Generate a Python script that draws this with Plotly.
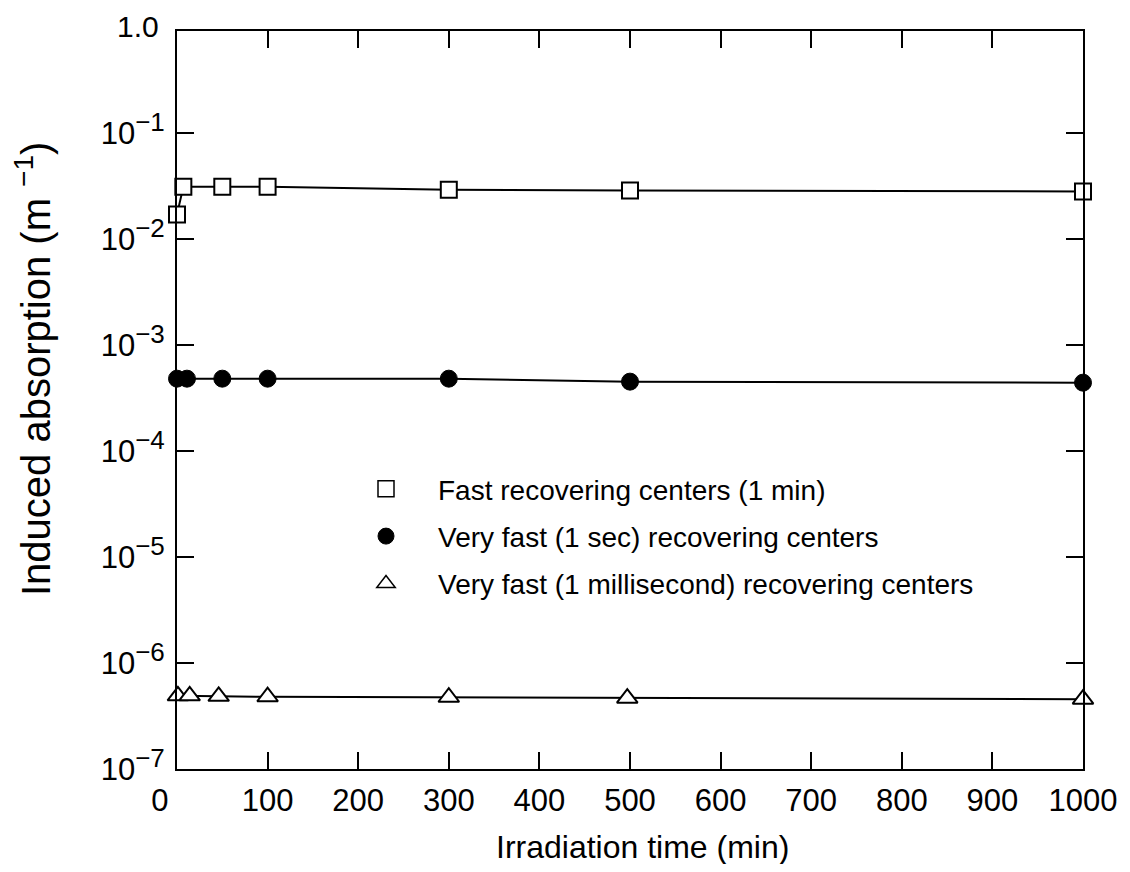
import plotly.graph_objects as go

# ---- data ----
fast_x = [0, 7, 50, 100, 300, 500, 1000]
fast_y = [0.017, 0.031, 0.031, 0.031, 0.029, 0.0285, 0.028]

sec_x = [0, 11, 50, 100, 300, 500, 1000]
sec_y = [4.8e-4, 4.8e-4, 4.8e-4, 4.8e-4, 4.8e-4, 4.5e-4, 4.4e-4]

ms_x = [1, 14, 46, 100, 300, 497, 1000]
ms_y = [4.9e-7, 4.9e-7, 4.85e-7, 4.8e-7, 4.75e-7, 4.65e-7, 4.55e-7]

series_names = [
    "Fast recovering centers (1 min)",
    "Very fast (1 sec) recovering centers",
    "Very fast (1 millisecond) recovering centers",
]

x_ticks = [0, 100, 200, 300, 400, 500, 600, 700, 800, 900, 1000]
x_ticklabels = ["0\u2007\u2007", "100", "200", "300", "400", "500", "600", "700", "800", "900", "1000"]
y_ticks = [1e-1, 1e-2, 1e-3, 1e-4, 1e-5, 1e-6, 1e-7]
y_exponents = ["\u22121", "\u22122", "\u22123", "\u22124", "\u22125", "\u22126", "\u22127"]
y_ticklabels = [f"10<sup><span style='font-size:26px'>{e}</span></sup>" for e in y_exponents]
top_label = "1.0"

FONT = "Liberation Sans, Arial, sans-serif"

styles = [
    dict(symbol="square", size=16, color="white", line=dict(color="black", width=2)),
    dict(symbol="circle", size=17, color="black", line=dict(color="black", width=1)),
    dict(symbol="triangle-up", size=18, color="white", line=dict(color="black", width=2)),
]
legend_styles = [
    dict(symbol="square", size=16, color="white", line=dict(color="black", width=1.5)),
    dict(symbol="circle", size=16, color="black", line=dict(color="black", width=1)),
    dict(symbol="triangle-up", size=16, color="white", line=dict(color="black", width=1.5)),
]

fig = go.Figure()
for xs, ys, st in zip([fast_x, sec_x, ms_x], [fast_y, sec_y, ms_y], styles):
    fig.add_trace(go.Scatter(x=xs, y=ys, mode="lines+markers",
                             line=dict(color="black", width=2),
                             marker=st, showlegend=False, cliponaxis=False))

for i, (name, st) in enumerate(zip(series_names, legend_styles)):
    fig.add_trace(go.Scatter(x=[None], y=[None], mode="markers", name=name,
                             marker=st, legendgroup=f"g{i}", showlegend=True))

# page body has an 8px margin: figure sized so the plot area lands where the reference has it
fig.update_layout(
    width=1114, height=856,
    margin=dict(l=169, r=39, t=23, b=95),
    paper_bgcolor="white", plot_bgcolor="white",
    font=dict(family=FONT, size=31, color="black"),
    legend=dict(x=(334 - 177) / 906, y=(769 - 464) / 738, xanchor="left", yanchor="top",
                font=dict(size=28, family=FONT), tracegroupgap=8,
                bgcolor="rgba(0,0,0,0)", itemwidth=94),
    xaxis=dict(range=[0, 1000], tickvals=x_ticks, ticktext=x_ticklabels,
               ticks="inside", ticklen=17, tickwidth=2, tickcolor="black",
               showline=True, linewidth=2, linecolor="black", mirror="ticks",
               showgrid=False, zeroline=False, ticklabelstandoff=3, automargin=False),
    yaxis=dict(type="log", range=[-7, -0.04], tickvals=y_ticks, ticktext=y_ticklabels,
               ticks="inside", ticklen=17, tickwidth=2, tickcolor="black",
               showline=True, linewidth=2, linecolor="black", mirror="ticks",
               showgrid=False, zeroline=False, ticklabelstandoff=4, automargin=False),
    annotations=[
        dict(text=top_label, x=0, y=(769 - 27) / 738, xref="paper", yref="paper",
             xanchor="right", yanchor="middle", xshift=-17, showarrow=False,
             font=dict(size=30), borderpad=0),
        dict(text="Induced absorption (m <sup>\u22121</sup>)", x=(33 - 177) / 906, y=(769 - 369) / 738,
             xref="paper", yref="paper", textangle=-90, showarrow=False,
             xanchor="center", yanchor="middle", font=dict(size=40)),
        dict(text="Irradiation time (min)", x=(642 - 177) / 906, y=(769 - 847) / 738,
             xref="paper", yref="paper", showarrow=False,
             xanchor="center", yanchor="middle", font=dict(size=32)),
    ],
)

fig.write_html("out.html")
